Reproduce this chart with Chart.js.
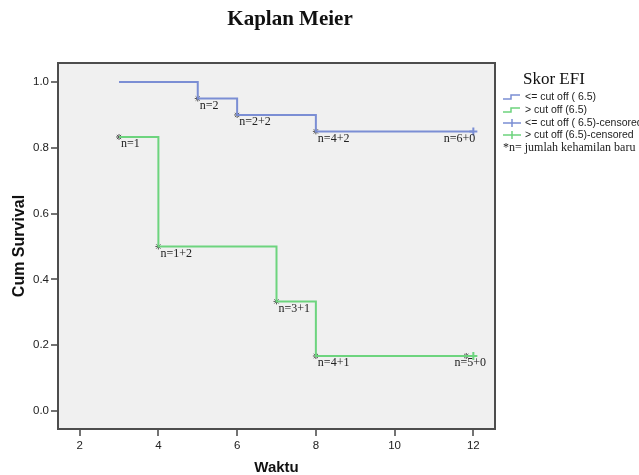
<!DOCTYPE html>
<html>
<head>
<meta charset="utf-8">
<script src="https://cdn.jsdelivr.net/npm/chart.js@4/dist/chart.umd.min.js"></script>
<style>
  html, body { margin:0; padding:0; background:#fff; }
  #wrap { width:639px; height:475px; }
</style>
</head>
<body>
<div id="wrap"><canvas id="km" width="639" height="475"></canvas></div>
<script>
// --- Datos ---
const xTicks = [2, 4, 6, 8, 10, 12];
const yTicks = [0.0, 0.2, 0.4, 0.6, 0.8, 1.0];

// <= cut off (6.5)
const timeLow = [3, 5, 6, 8, 12];
const survLow = [1.0, 0.95, 0.90, 0.85, 0.85];
const eventTimeLow = [5, 6, 8];
const eventSurvLow = [0.95, 0.90, 0.85];
const censTimeLow = [12];
const censSurvLow = [0.85];
const labelsLow = ['n=2', 'n=2+2', 'n=4+2', 'n=6+0'];

// > cut off (6.5)
const timeHigh = [3, 4, 7, 8, 12];
const survHigh = [0.833, 0.5, 0.333, 0.167, 0.167];
const eventTimeHigh = [3, 4, 7, 8, 11.82];
const eventSurvHigh = [0.833, 0.5, 0.333, 0.167, 0.167];
const censTimeHigh = [12];
const censSurvHigh = [0.167];
const labelsHigh = ['n=1', 'n=1+2', 'n=3+1', 'n=4+1', 'n=5+0'];

const legendTitle = 'Skor EFI';
const legendItems = ['<= cut off ( 6.5)', '> cut off (6.5)', '<= cut off ( 6.5)-censored', '> cut off (6.5)-censored'];
const legendNote = '*n= jumlah kehamilan baru';

const BLUE = '#7b8ed4';
const GREEN = '#6dd47e';
const STAR = '#555555';

function pts(xs, ys){ return xs.map((x, i) => ({ x, y: ys[i] })); }

// --- Plugins ---
const frame = {
  id: 'frame',
  beforeDraw(chart){
    const { ctx, chartArea: a } = chart;
    ctx.save();
    ctx.fillStyle = '#fff';
    ctx.fillRect(0, 0, chart.width, chart.height);
    ctx.fillStyle = '#f0f0f0';
    ctx.fillRect(a.left, a.top, a.right - a.left, a.bottom - a.top);
    ctx.restore();
  },
  afterDraw(chart){
    const { ctx, chartArea: a } = chart;
    ctx.save();
    ctx.strokeStyle = '#4d4d4d';
    ctx.lineWidth = 2;
    ctx.strokeRect(a.left, a.top, a.right - a.left, a.bottom - a.top);
    // titulo
    ctx.fillStyle = '#111';
    ctx.font = 'bold 21px "Liberation Serif", serif';
    ctx.textAlign = 'center';
    ctx.textBaseline = 'middle';
    ctx.fillText('Kaplan Meier', 290, 20);
    ctx.restore();
  }
};

// etiquetas n=... junto a los puntos
const nLabels = {
  id: 'nLabels',
  afterDatasetsDraw(chart){
    const { ctx, scales: { x, y } } = chart;
    ctx.save();
    ctx.font = '12px "Liberation Serif", serif';
    ctx.fillStyle = '#222';
    ctx.textBaseline = 'middle';
    chart.data.datasets.forEach(ds => {
      if (!ds.nLabels) return;
      const anchors = ds.nAnchors;
      ds.nLabels.forEach((txt, i) => {
        const p = anchors[i];
        const px = x.getPixelForValue(p.x), py = y.getPixelForValue(p.y);
        const last = i === ds.nLabels.length - 1;
        if (last){
          ctx.textAlign = ds.endAlign;
          ctx.fillText(txt, px + ds.endDx, py + 7);
        } else {
          ctx.textAlign = 'left';
          ctx.fillText(txt, px + 2, py + 7);
        }
      });
    });
    ctx.restore();
  }
};

const sideLegend = {
  id: 'sideLegend',
  afterDraw(chart){
    const { ctx } = chart;
    ctx.save();
    ctx.fillStyle = '#111';
    ctx.font = '17px "Liberation Serif", serif';
    ctx.textAlign = 'left';
    ctx.textBaseline = 'alphabetic';
    ctx.fillText(legendTitle, 523, 84);

    const rows = [97, 110, 123, 135];
    const cols = [BLUE, GREEN, BLUE, GREEN];
    ctx.font = '10.5px "Liberation Sans", Arial, sans-serif';
    ctx.textBaseline = 'middle';
    legendItems.forEach((txt, i) => {
      const yy = rows[i];
      ctx.strokeStyle = cols[i];
      ctx.lineWidth = 1.5;
      ctx.beginPath();
      if (i < 2){
        ctx.moveTo(503, yy + 2); ctx.lineTo(511, yy + 2); ctx.lineTo(511, yy - 2); ctx.lineTo(520, yy - 2);
      } else {
        ctx.moveTo(503, yy); ctx.lineTo(521, yy);
        ctx.moveTo(512, yy - 4); ctx.lineTo(512, yy + 4);
      }
      ctx.stroke();
      ctx.fillStyle = '#222';
      ctx.fillText(txt, 525, yy);
    });
    ctx.font = '12px "Liberation Serif", serif';
    ctx.fillText(legendNote, 503, 148);
    ctx.restore();
  }
};

// --- Chart ---
new Chart(document.getElementById('km'), {
  type: 'scatter',
  data: {
    datasets: [
      { label: legendItems[0], data: pts(timeLow, survLow), showLine: true, stepped: true,
        borderColor: BLUE, borderWidth: 2, pointRadius: 0, fill: false },
      { label: legendItems[1], data: pts(timeHigh, survHigh), showLine: true, stepped: true,
        borderColor: GREEN, borderWidth: 2, pointRadius: 0, fill: false },
      { label: 'events-low', data: pts(eventTimeLow, eventSurvLow), pointStyle: 'star',
        pointRadius: 3, borderColor: STAR, borderWidth: 1, backgroundColor: STAR,
        nLabels: labelsLow, nAnchors: pts(eventTimeLow.concat(censTimeLow), eventSurvLow.concat(censSurvLow)),
        endAlign: 'right', endDx: 2 },
      { label: 'events-high', data: pts(eventTimeHigh, eventSurvHigh), pointStyle: 'star',
        pointRadius: 3, borderColor: STAR, borderWidth: 1, backgroundColor: STAR,
        nLabels: labelsHigh, nAnchors: pts(eventTimeHigh, eventSurvHigh),
        endAlign: 'center', endDx: 4 },
      { label: legendItems[2], data: pts(censTimeLow, censSurvLow), pointStyle: 'cross',
        pointRadius: 4, borderColor: BLUE, borderWidth: 2 },
      { label: legendItems[3], data: pts(censTimeHigh, censSurvHigh), pointStyle: 'cross',
        pointRadius: 4, borderColor: GREEN, borderWidth: 2 }
    ]
  },
  options: {
    responsive: false,
    animation: false,
    events: [],
    layout: { padding: { top: 63, right: 144, left: 0, bottom: 0 } },
    plugins: { legend: { display: false }, tooltip: { enabled: false }, title: { display: false } },
    scales: {
      x: {
        type: 'linear', min: 1.45, max: 12.55,
        afterBuildTicks: s => { s.ticks = xTicks.map(v => ({ value: v })); },
        afterFit: s => { s.height = 46; },
        border: { display: false },
        grid: { drawOnChartArea: false, drawTicks: true, tickLength: 7, tickColor: '#444', tickWidth: 1.5, lineWidth: 0 },
        ticks: { padding: 3, color: '#222', font: { family: '"Liberation Sans", Arial, sans-serif', size: 11.5 },
                 callback: v => String(v) },
        title: { display: true, text: 'Waktu', color: '#111', padding: { top: 0, bottom: 0 },
                 font: { family: '"Liberation Sans", Arial, sans-serif', size: 15, weight: 'bold', lineHeight: 1 } }
      },
      y: {
        type: 'linear', min: -0.055, max: 1.058,
        afterBuildTicks: s => { s.ticks = yTicks.map(v => ({ value: v })); },
        afterFit: s => { s.width = 58; },
        border: { display: false },
        grid: { drawOnChartArea: false, drawTicks: true, tickLength: 7, tickColor: '#444', tickWidth: 1.5, lineWidth: 0 },
        ticks: { padding: 2, color: '#222', font: { family: '"Liberation Sans", Arial, sans-serif', size: 11.5 },
                 callback: v => Number(v).toFixed(1) },
        title: { display: true, text: 'Cum Survival', color: '#111', padding: { top: 10, bottom: 0 },
                 font: { family: '"Liberation Sans", Arial, sans-serif', size: 16, weight: 'bold', lineHeight: 1.2 } }
      }
    }
  },
  plugins: [frame, nLabels, sideLegend]
});
</script>
</body>
</html>
